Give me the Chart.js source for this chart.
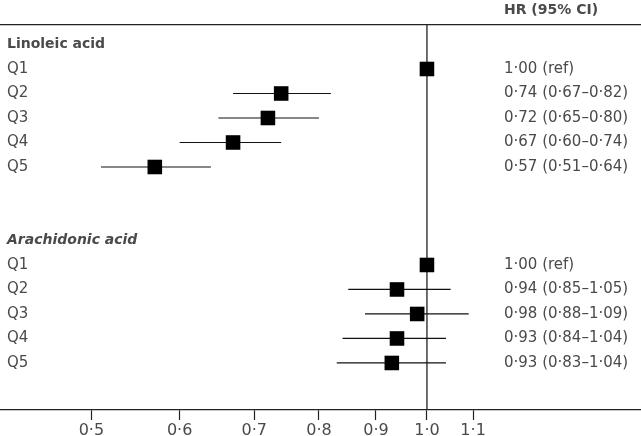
<!DOCTYPE html>
<html>
<head>
<meta charset="utf-8">
<script src="https://cdn.jsdelivr.net/npm/chart.js@4/dist/chart.umd.min.js"></script>
<style>
  html, body { margin: 0; padding: 0; background: #fff; }
  canvas { display: block; }
</style>
</head>
<body>
<canvas id="c" width="641" height="436"></canvas>
<script>
// ---- data ----
const groups = ['Linoleic acid', 'Arachidonic acid'];
const quintiles = ['Q1', 'Q2', 'Q3', 'Q4', 'Q5'];

const linoleicHR   = [1.00, 0.74, 0.72, 0.67, 0.57];
const linoleicLow  = [null, 0.67, 0.65, 0.60, 0.51];
const linoleicHigh = [null, 0.82, 0.80, 0.74, 0.64];
const linoleicText = ['1·00 (ref)', '0·74 (0·67–0·82)', '0·72 (0·65–0·80)', '0·67 (0·60–0·74)', '0·57 (0·51–0·64)'];

const arachidonicHR   = [1.00, 0.94, 0.98, 0.94, 0.93];
const arachidonicLow  = [null, 0.85, 0.88, 0.84, 0.83];
const arachidonicHigh = [null, 1.05, 1.09, 1.04, 1.04];
const arachidonicText = ['1·00 (ref)', '0·94 (0·85–1·05)', '0·98 (0·88–1·09)', '0·93 (0·84–1·04)', '0·93 (0·83–1·04)'];

const tickValues = [0.5, 0.6, 0.7, 0.8, 0.9, 1.0, 1.1];
const tickLabels = ['0·5', '0·6', '0·7', '0·8', '0·9', '1·0', '1·1'];
const columnHeader = 'HR (95% CI)';

// row positions: group header rows and quintile rows
const groupRows = [0, 8];
const quintileRows = [[1, 2, 3, 4, 5], [9, 10, 11, 12, 13]];
const hrSets = [linoleicHR, arachidonicHR];
const lowSets = [linoleicLow, arachidonicLow];
const highSets = [linoleicHigh, arachidonicHigh];
const textSets = [linoleicText, arachidonicText];

const X_MIN = 0.414, X_MAX = 1.556;
const Y_MIN = -0.796, Y_MAX = 14.92;
const TEXT_COLOR = '#4a4a4a';
const FONT = '"DejaVu Sans", sans-serif';

// ---- datasets ----
const datasets = [];
// reference line at HR = 1
datasets.push({
  type: 'line', data: [{x: 1, y: Y_MIN}, {x: 1, y: Y_MAX}],
  borderColor: '#222', borderWidth: 1.3, pointRadius: 0, showLine: true, order: 3
});
// CI lines
for (let g = 0; g < 2; g++) {
  for (let i = 0; i < quintiles.length; i++) {
    if (lowSets[g][i] == null) continue;
    datasets.push({
      type: 'line',
      data: [{x: lowSets[g][i], y: quintileRows[g][i]}, {x: highSets[g][i], y: quintileRows[g][i]}],
      borderColor: '#111', borderWidth: 1.2, pointRadius: 0, showLine: true, order: 2
    });
  }
}
// point estimates
const pts = [];
for (let g = 0; g < 2; g++) {
  for (let i = 0; i < quintiles.length; i++) {
    pts.push({x: hrSets[g][i], y: quintileRows[g][i]});
  }
}
datasets.push({
  type: 'scatter', data: pts, pointStyle: 'rect', pointRadius: 10.3, pointHoverRadius: 10.3,
  backgroundColor: '#000', borderColor: '#000', borderWidth: 0, order: 1
});

// ---- text plugin ----
const textPlugin = {
  id: 'forestText',
  afterDatasetsDraw(chart) {
    const ctx = chart.ctx;
    const y = chart.scales.y;
    ctx.save();
    ctx.fillStyle = TEXT_COLOR;
    ctx.textBaseline = 'middle';
    ctx.textAlign = 'left';
    for (let g = 0; g < 2; g++) {
      ctx.font = (g === 1 ? 'italic ' : '') + 'bold 14px ' + FONT;
      ctx.fillText(groups[g], 7, y.getPixelForValue(groupRows[g]));
      ctx.font = '15px ' + FONT;
      for (let i = 0; i < quintiles.length; i++) {
        const py = y.getPixelForValue(quintileRows[g][i]);
        ctx.fillText(quintiles[i], 7, py);
        ctx.fillText(textSets[g][i], 504, py);
      }
    }
    ctx.font = 'bold 14px ' + FONT;
    ctx.fillText(columnHeader, 504, 10);
    ctx.restore();
  }
};

new Chart(document.getElementById('c'), {
  type: 'scatter',
  data: { datasets },
  options: {
    responsive: false,
    animation: false,
    layout: { padding: 0, autoPadding: false },
    plugins: { legend: { display: false }, tooltip: { enabled: false } },
    scales: {
      x: {
        type: 'logarithmic', position: 'bottom', min: X_MIN, max: X_MAX,
        afterBuildTicks: s => { s.ticks = tickValues.map(v => ({ value: v })); },
        afterFit: s => { s.height = 26; },
        ticks: {
          autoSkip: false, maxRotation: 0, padding: 1,
          color: TEXT_COLOR, font: { family: FONT, size: 16 },
          callback: (v, i) => tickLabels[i]
        },
        grid: { display: true, drawOnChartArea: false, tickLength: 10, tickColor: '#222', tickWidth: 1.2 },
        border: { display: true, color: '#222', width: 1.3 }
      },
      xTop: {
        type: 'logarithmic', position: 'top', min: X_MIN, max: X_MAX,
        afterFit: s => { s.height = 25; },
        ticks: { display: false },
        grid: { display: false },
        border: { display: true, color: '#222', width: 1.3 }
      },
      y: {
        type: 'linear', reverse: true, min: Y_MIN, max: Y_MAX, display: false
      }
    }
  },
  plugins: [textPlugin]
});
</script>
</body>
</html>
